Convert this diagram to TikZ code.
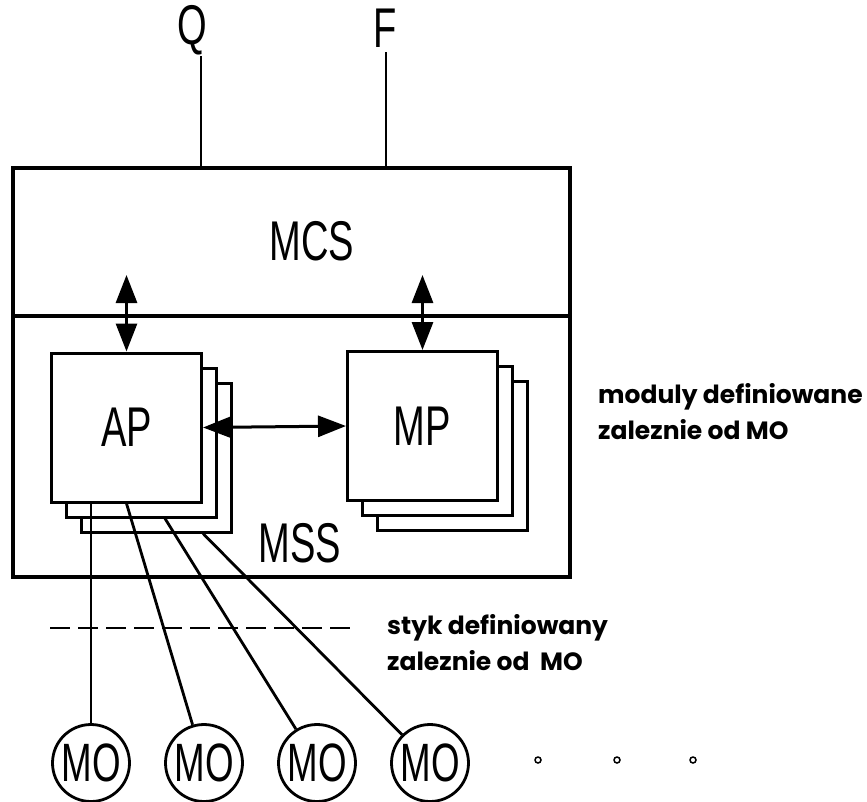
\documentclass[tikz,border=0pt]{standalone}
\usepackage{fontspec}
\usetikzlibrary{arrows.meta}
\newfontfamily\labelfont[FakeStretch=0.68]{Liberation Sans}
\newfontfamily\notefont{Poppins}

\begin{document}
\begin{tikzpicture}[x=1pt, y=-1pt,
    frame/.style={draw, line width=3.4pt, inner sep=0pt, outer sep=0pt},
    card/.style={draw, fill=white, line width=3pt, inner sep=0pt,
                 minimum width=150pt, minimum height=149pt,
                 font=\labelfont\fontsize{56}{60}\selectfont},
    tag/.style={inner sep=0pt, font=\labelfont\fontsize{56}{60}\selectfont},
    unit/.style={draw, circle, line width=2.8pt, inner sep=0pt, minimum size=77pt,
                 font=\labelfont\fontsize{54}{58}\selectfont},
    dot/.style={draw, circle, line width=1.5pt, inner sep=0pt, minimum size=6pt},
    note/.style={inner sep=0pt, anchor=west, align=left,
                 font=\notefont\bfseries\fontsize{25}{36}\selectfont},
    wire/.style={line width=2.8pt},
    link/.style={line width=3pt,
                 {Triangle[length=28pt, width=21pt]}-{Triangle[length=28pt, width=21pt]}}]
    \useasboundingbox (0,0) rectangle (867,801);
    \node[frame, minimum width=557pt, minimum height=148pt] (mcs) at (291.5,242) {};
    \node[frame, minimum width=557pt, minimum height=261pt, anchor=north] (mss) at (mcs.south) {};
    \node[tag] (mcslabel) at (312,241) {MCS};
    \node[tag] (msslabel) at (300,543) {MSS};
    \node[tag] (q) at (192,30) {Q};
    \node[tag] (f) at (385,28) {F};
    \coordinate (qin) at (201,168);
    \coordinate (fin) at (386,168);
    \draw[wire] ([yshift=-1pt]q.south -| qin) -- (qin);
    \draw[wire] ([yshift=-5pt]f.south -| fin) -- (fin);
    \node[card] (ap3) at (156.5,457.5) {};
    \node[card] (ap2) at (141.5,442.5) {};
    \node[card] (ap) at (126.5,427.5) {AP};
    \node[card] (mp3) at (452.5,456) {};
    \node[card] (mp2) at (437.5,441) {};
    \node[card] (mp) at (422.5,426) {MP};
    \coordinate (aptop) at (ap.north |- 0,275);
    \coordinate (mptop) at (mp.north |- 0,275);
    \draw[link] (aptop) -- (ap.north);
    \draw[link] (mptop) -- (mp.north);
    \draw[link] (ap.east) -- (mp.west);
    \foreach \i/\x in {1/91, 2/204, 3/317, 4/430}
        \node[unit] (mo\i) at (\x,763) {MO};
    \foreach \x [count=\i] in {538, 617, 693}
        \node[dot] (etc\i) at (\x,760) {};
    \coordinate (tap3) at (ap2.south -| 165,0);
    \coordinate (tap4) at (ap3.south -| 203,0);
    \draw[wire] (ap.south -| mo1) -- (mo1);
    \draw[wire] (ap.south) -- (mo2);
    \draw[wire] (tap3) -- (mo3);
    \draw[wire] (tap4) -- (mo4);
    \coordinate (cutw) at (50,628);
    \coordinate (cute) at (353,628);
    \draw[wire, dash pattern=on 20pt off 8pt] (cutw) -- (cute);
    \node[note] (modnote) at (598,412) {moduly definiowane\\zaleznie od MO};
    \node[note] (stiknote) at (387,643) {styk definiowany\\zaleznie od\ \ MO};
\end{tikzpicture}
\end{document}
